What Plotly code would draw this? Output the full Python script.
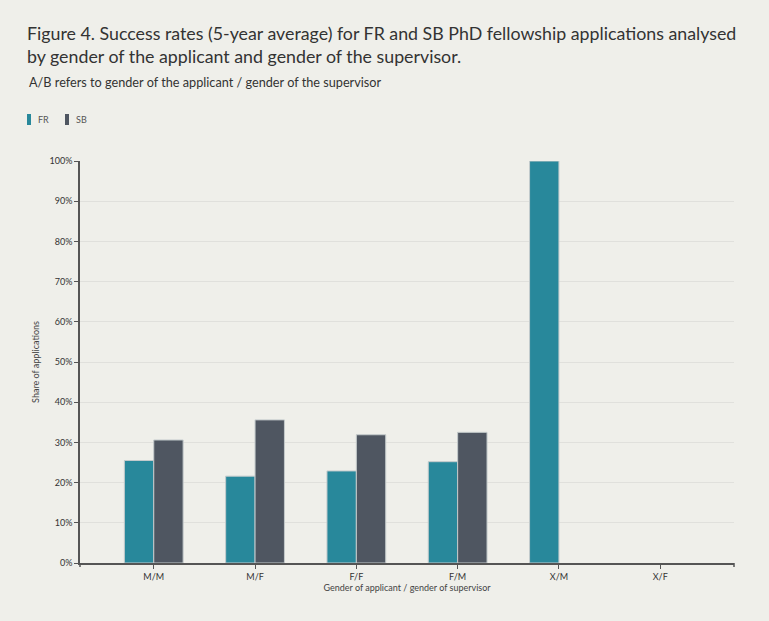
import plotly.graph_objects as go

categories = ["M/M", "M/F", "F/F", "F/M", "X/M", "X/F"]
fr_values = [0.255, 0.216, 0.229, 0.252, 1.00, None]
sb_values = [0.306, 0.356, 0.319, 0.325, None, None]
series_names = ["FR", "SB"]
series_colors = ["#28889b", "#4f5661"]
y_ticks = [i / 10 for i in range(11)]

BG = "#efefea"
FONT = "Lato"
W, H = 769, 621
L, R, T, B = 80, 35, 161, 58
PW, PH = W - L - R, H - T - B


def px_x(x):
    return (x - L) / PW


def px_y(y):
    return (H - B - y) / PH


fig = go.Figure()
for name, vals, col in zip(series_names, [fr_values, sb_values], series_colors):
    fig.add_trace(go.Bar(name=name, x=categories, y=vals, showlegend=False,
                         marker=dict(color=col, line=dict(color="#c4cbcc", width=1))))

shapes = []
annotations = []
# custom legend (narrow swatches like the reference)
for i, (name, col) in enumerate(zip(series_names, series_colors)):
    x0 = 27 + i * 38
    shapes.append(dict(type="rect", xref="paper", yref="paper",
                       x0=px_x(x0), x1=px_x(x0 + 4), y0=px_y(125), y1=px_y(114),
                       fillcolor=col, line=dict(width=0)))
    annotations.append(dict(text=name, xref="paper", yref="paper", x=px_x(x0 + 9), y=px_y(119.5),
                            xanchor="left", yanchor="middle", showarrow=False,
                            font=dict(size=9, color="#555555", family=FONT)))
# outer ticks at the ends of the x axis
for xp in (L, W - R):
    shapes.append(dict(type="line", xref="paper", yref="paper",
                       x0=px_x(xp), x1=px_x(xp), y0=0, y1=px_y(H - B + 4),
                       line=dict(color="#555555", width=1.5)))

annotations.append(dict(text="A/B refers to gender of the applicant / gender of the supervisor",
                        xref="paper", yref="paper", x=px_x(27), y=px_y(82),
                        xanchor="left", yanchor="middle", showarrow=False,
                        font=dict(size=12.7, color="#333333", family=FONT)))

fig.update_layout(
    width=W, height=H,
    paper_bgcolor=BG, plot_bgcolor=BG,
    font=dict(family=FONT, color="#333333", size=9),
    margin=dict(l=L, r=R, t=T, b=B),
    barmode="group", bargap=0.42, bargroupgap=0,
    showlegend=False,
    title=dict(text="Figure 4. Success rates (5-year average) for FR and SB PhD fellowship applications analysed<br>by gender of the applicant and gender of the supervisor.",
               x=27 / W, xanchor="left", xref="container", y=1 - 40 / H, yanchor="top",
               font=dict(size=17.8, color="#333333", family=FONT)),
    shapes=shapes,
    annotations=annotations,
)
fig.update_xaxes(
    range=[-0.728, 5.728], showline=True, linecolor="#555555", linewidth=1.5,
    ticks="outside", ticklen=4, tickcolor="#555555",
    tickfont=dict(size=9, color="#333333"),
    title=dict(text="Gender of applicant / gender of supervisor", font=dict(size=9, color="#444444"), standoff=0),
    showgrid=False,
)
fig.update_yaxes(
    range=[0, 1], tickvals=y_ticks, tickformat=".0%",
    showline=True, linecolor="#555555", linewidth=1.5,
    ticks="outside", ticklen=4, tickcolor="#555555",
    tickfont=dict(size=9, color="#333333"),
    gridcolor="#e0e0dc", gridwidth=1, zeroline=False,
    title=dict(text="Share of applications", font=dict(size=9, color="#444444"), standoff=8),
)
fig.write_html("out.html", config={"displayModeBar": False},
               post_script="document.body.style.margin='0';")
